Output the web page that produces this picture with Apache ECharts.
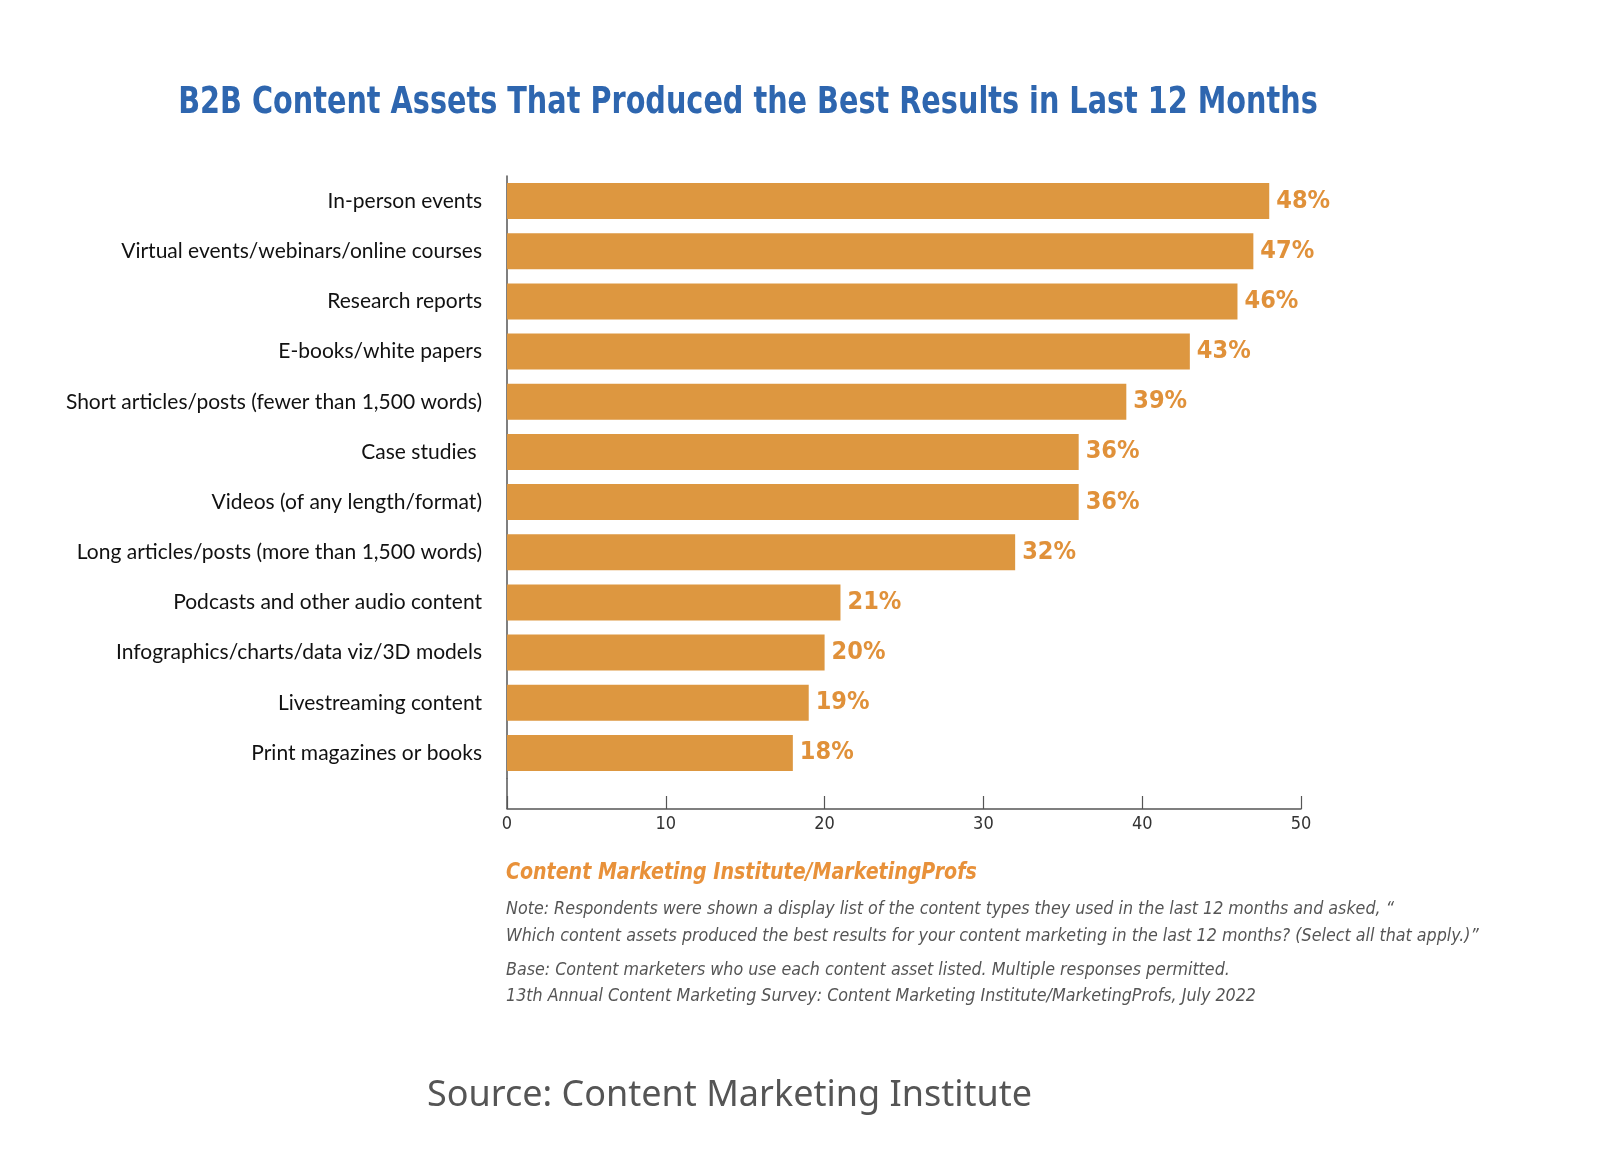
<!DOCTYPE html>
<html><head><meta charset="utf-8">
<script src="https://cdn.jsdelivr.net/npm/echarts@6/dist/echarts.min.js"></script>
<style>html,body{margin:0;padding:0;background:#fff}#c{width:1600px;height:1172px}</style>
</head><body><div id="c"></div>
<script>
const categories = [
  'In-person events',
  'Virtual events/webinars/online courses',
  'Research reports',
  'E-books/white papers',
  'Short articles/posts (fewer than 1,500 words)',
  'Case studies ',
  'Videos (of any length/format)',
  'Long articles/posts (more than 1,500 words)',
  'Podcasts and other audio content',
  'Infographics/charts/data viz/3D models',
  'Livestreaming content',
  'Print magazines or books'
];
const values = [48, 47, 46, 43, 39, 36, 36, 32, 21, 20, 19, 18];
const xMin = 0, xMax = 50, xStep = 10;
const titleText = 'B2B Content Assets That Produced the Best Results in Last 12 Months';
const sourceOrg = 'Content Marketing Institute/MarketingProfs';
const noteLines = [
  'Note: Respondents were shown a display list of the content types they used in the last 12 months and asked, \u201c',
  'Which content assets produced the best results for your content marketing in the last 12 months? (Select all that apply.)\u201d',
  'Base: Content marketers who use each content asset listed. Multiple responses permitted.',
  '13th Annual Content Marketing Survey: Content Marketing Institute/MarketingProfs, July 2022'
];
const footerSource = 'Source: Content Marketing Institute';

const G = {left: 507, top: 176, width: 794, height: 602};
const xOffset = 31;
const orange = '#DD9740';
const cond = '"DejaVu Sans Condensed", "DejaVu Sans", sans-serif';

function noteText(i, y) {
  return {type: 'text', x: 506, y: y, scaleX: 0.983,
    style: {text: noteLines[i], fill: '#555', font: 'italic 18px ' + cond, textVerticalAlign: 'middle'}};
}

const chart = echarts.init(document.getElementById('c'), null, {renderer: 'canvas'});
chart.setOption({
  backgroundColor: '#ffffff',
  animation: false,
  grid: {left: G.left, top: G.top, width: G.width, height: G.height, containLabel: false},
  xAxis: {
    type: 'value', min: xMin, max: xMax, interval: xStep,
    offset: xOffset,
    axisLine: {show: true, lineStyle: {color: '#555', width: 1.5}},
    axisTick: {show: true, inside: true, length: 13, lineStyle: {color: '#555', width: 1.2}},
    splitLine: {show: false},
    axisLabel: {color: '#333', fontSize: 18, margin: 6, fontFamily: cond}
  },
  yAxis: {
    type: 'category', data: categories, inverse: true,
    axisLine: {show: true, lineStyle: {color: '#555', width: 1.5}},
    axisTick: {show: false},
    axisLabel: {color: '#111', fontSize: 21, margin: 25, fontFamily: 'Lato, sans-serif'}
  },
  series: [{
    type: 'bar', data: values, barWidth: 36,
    itemStyle: {color: orange},
    label: {
      show: true, position: 'right', distance: 7, formatter: '{c}%',
      color: '#E0913A', fontWeight: 'bold', fontSize: 25, fontFamily: cond
    }
  }],
  graphic: [
    {type: 'text', x: 748, y: 103, scaleX: 0.84,
     style: {text: titleText, fill: '#2E66AF', font: 'bold 38px ' + cond, textAlign: 'center', textVerticalAlign: 'middle'}},
    {type: 'line', shape: {x1: G.left, y1: G.top + G.height, x2: G.left, y2: G.top + G.height + xOffset},
     style: {stroke: '#555', lineWidth: 1.5}},
    {type: 'text', x: 506, y: 873, scaleX: 0.92,
     style: {text: sourceOrg, fill: '#E8913A', font: 'italic bold 23px ' + cond, textVerticalAlign: 'middle'}},
    noteText(0, 909),
    noteText(1, 936),
    noteText(2, 970),
    noteText(3, 996),
    {type: 'text', x: 427, y: 1096,
     style: {text: footerSource, fill: '#555', font: '36px "Noto Sans", sans-serif', textVerticalAlign: 'middle'}}
  ]
});
</script></body></html>
